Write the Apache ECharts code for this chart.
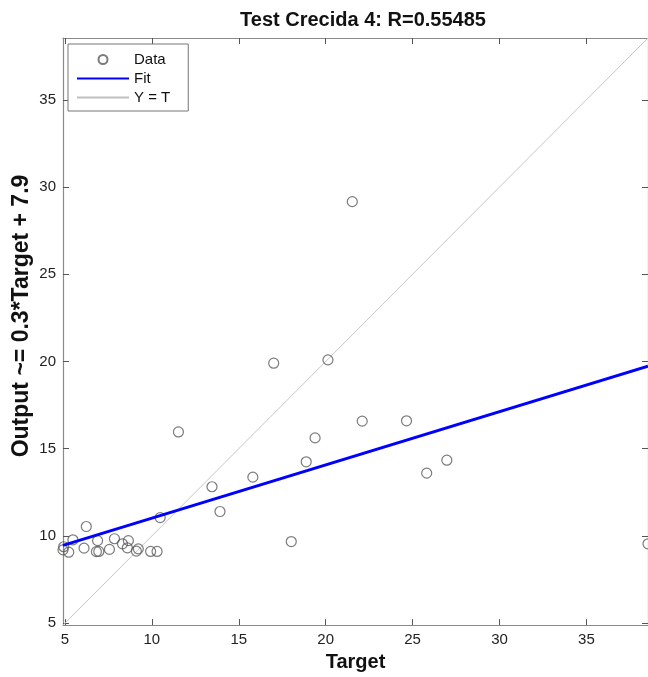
<!DOCTYPE html>
<html>
<head>
<meta charset="utf-8">
<title>Test Crecida 4</title>
<script src="https://cdn.jsdelivr.net/npm/echarts@6/dist/echarts.min.js"></script>
<style>
  html, body { margin: 0; padding: 0; background: #fff; }
  #chart { width: 648px; height: 677px; }
</style>
</head>
<body>
<div id="chart"></div>
<script>
// Axis range shared by Target and Output (square regression plot)
const axMin = 4.89;
const axMax = 38.54;
const tickValues = [5, 10, 15, 20, 25, 30, 35];

// Test samples: target vs. network output
const targets = [21.53, 17.01, 20.13, 11.53, 19.39, 22.10, 24.65, 18.88, 25.81, 26.97,
                 13.46, 15.81, 13.92, 10.48, 18.02, 38.54, 4.89, 4.93, 5.22, 5.46,
                 6.23, 6.10, 6.88, 6.81, 6.95, 7.56, 7.85, 8.31, 8.65, 8.59,
                 9.11, 9.22, 9.93, 10.30];
const outputs = [29.16, 19.90, 20.09, 15.96, 15.62, 16.58, 16.60, 14.25, 13.60, 14.34,
                 12.82, 13.37, 11.40, 11.05, 9.68, 9.55, 9.20, 9.38, 9.07, 9.78,
                 10.54, 9.30, 9.73, 9.10, 9.11, 9.23, 9.84, 9.55, 9.73, 9.32,
                 9.13, 9.26, 9.11, 9.11];

// Linear fit coefficients
const fitSlope = 0.305;
const fitIntercept = 7.97;

const titleText = 'Test Crecida 4: R=0.55485';
const xName = 'Target';
const yName = 'Output ~= 0.3*Target + 7.9';
const legendNames = ['Data', 'Fit', 'Y = T'];

const font = 'Liberation Sans, Arial, Helvetica, sans-serif';
const axisGray = '#8a8a8a';

const scatterData = targets.map((t, i) => [t, outputs[i]]);
const fitData = [axMin, axMax].map(t => [t, fitSlope * t + fitIntercept]);
const identityData = [[axMin, axMin], [axMax, axMax]];

function makeAxis(position, showLabels) {
  return {
    type: 'value',
    position: position,
    min: axMin,
    max: axMax,
    axisLine: { show: true, onZero: false, lineStyle: { color: axisGray, width: 1.2 } },
    axisTick: {
      show: true, inside: true, length: 6,
      customValues: tickValues,
      lineStyle: { color: '#555', width: 1 }
    },
    axisLabel: {
      show: showLabels,
      customValues: tickValues,
      color: '#222', fontSize: 15, fontFamily: font, margin: 7
    },
    splitLine: { show: false }
  };
}

const xBottom = makeAxis('bottom', true);
xBottom.name = xName;
xBottom.nameLocation = 'middle';
xBottom.nameGap = 23;
xBottom.nameTextStyle = { fontSize: 20, fontWeight: 'bold', color: '#111', fontFamily: font };

// Line entries show only their stroke in the legend
const hiddenMarker = { color: 'rgba(0,0,0,0)', borderWidth: 0 };

const chart = echarts.init(document.getElementById('chart'), null, { renderer: 'canvas' });
chart.setOption({
  animation: false,
  backgroundColor: '#fff',
  title: {
    text: titleText,
    left: 358, top: 5, textAlign: 'center',
    textStyle: { fontSize: 20, fontWeight: 'bold', color: '#111', fontFamily: font }
  },
  grid: { left: 63, top: 38, width: 588, height: 589, containLabel: false },
  xAxis: [xBottom, makeAxis('top', false)],
  yAxis: [makeAxis('left', true), makeAxis('right', false)],
  // Vertical axis title
  graphic: [{
    type: 'text',
    x: 22, y: 316,
    rotation: Math.PI / 2,
    style: {
      text: yName,
      fill: '#111',
      font: 'bold 23px ' + font,
      textAlign: 'center',
      textVerticalAlign: 'middle'
    }
  }],
  legend: {
    orient: 'vertical',
    left: 68, top: 44,
    data: [
      { name: legendNames[0] },
      { name: legendNames[1], itemStyle: hiddenMarker },
      { name: legendNames[2], itemStyle: hiddenMarker }
    ],
    itemWidth: 52, itemHeight: 9, itemGap: 4,
    padding: [8, 18, 6, 8],
    backgroundColor: '#fff',
    borderColor: '#777', borderWidth: 1,
    textStyle: { fontSize: 15, color: '#111', fontFamily: font }
  },
  series: [
    {
      name: legendNames[2],
      type: 'line',
      xAxisIndex: 0, yAxisIndex: 0,
      data: identityData,
      symbol: 'none',
      itemStyle: { color: '#c0c0c0' },
      lineStyle: { color: '#c0c0c0', width: 0.9 },
      z: 1
    },
    {
      name: legendNames[0],
      type: 'scatter',
      xAxisIndex: 0, yAxisIndex: 0,
      data: scatterData,
      symbol: 'circle',
      symbolSize: 10,
      itemStyle: { color: 'rgba(0,0,0,0)', borderColor: '#5a5a5a', borderWidth: 1.2 },
      z: 2
    },
    {
      name: legendNames[1],
      type: 'line',
      xAxisIndex: 0, yAxisIndex: 0,
      data: fitData,
      symbol: 'none',
      itemStyle: { color: '#0000ff' },
      lineStyle: { color: '#0000ff', width: 3 },
      z: 3
    }
  ]
});
</script>
</body>
</html>
